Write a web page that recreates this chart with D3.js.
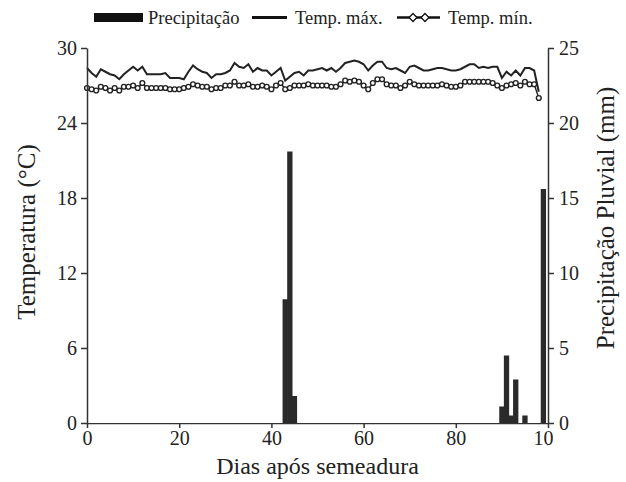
<!DOCTYPE html>
<html>
<head>
<meta charset="utf-8">
<script src="https://cdn.jsdelivr.net/npm/d3@7"></script>
<style>
  body { margin: 0; background: #fff; }
  svg { display: block; }
  svg text { font-family: "Liberation Serif", Tinos, "Times New Roman", Times, "DejaVu Serif", serif; fill: #222; }
</style>
</head>
<body>
<div id="chart"></div>
<script>
// daily temperatures, index = days after sowing (starting at day 0)
var tmax = [28.4, 28.0, 27.7, 28.3, 28.1, 27.9, 27.8, 27.5, 27.9, 28.2,
            28.5, 28.2, 28.5, 27.9, 27.9, 27.9, 27.9, 28.0, 27.6, 27.6,
            27.6, 27.5, 28.1, 28.6, 28.3, 28.1, 28.0, 27.6, 27.9, 27.9,
            28.0, 28.2, 28.8, 28.5, 28.4, 28.7, 28.1, 28.4, 28.2, 28.2,
            27.8, 28.1, 28.4, 27.4, 27.7, 28.0, 28.1, 27.8, 28.2, 28.2,
            28.3, 28.4, 28.2, 28.4, 28.1, 28.4, 28.8, 28.9, 29.0, 28.9,
            28.7, 28.2, 28.6, 28.9, 28.9, 28.4, 28.3, 28.4, 28.2, 28.0,
            28.5, 28.6, 28.4, 28.2, 28.2, 28.3, 28.4, 28.4, 28.3, 28.2,
            28.2, 28.3, 28.5, 28.7, 28.7, 28.4, 28.5, 28.4, 28.5, 28.5,
            27.6, 28.1, 27.8, 28.2, 27.8, 28.4, 28.4, 28.2, 26.5];
var tmin = [26.8, 26.7, 26.6, 26.9, 26.8, 26.6, 26.8, 26.6, 26.9, 26.9,
            27.0, 26.8, 27.2, 26.8, 26.8, 26.8, 26.8, 26.8, 26.7, 26.7,
            26.7, 26.8, 26.9, 27.1, 27.0, 26.9, 26.9, 26.7, 26.8, 26.8,
            27.0, 27.0, 27.3, 27.0, 27.0, 27.1, 26.9, 26.9, 27.0, 26.9,
            26.7, 27.0, 27.2, 26.7, 26.8, 27.0, 27.0, 27.0, 27.1, 27.0,
            27.0, 27.0, 27.0, 26.9, 26.9, 27.1, 27.4, 27.3, 27.4, 27.3,
            27.0, 26.7, 27.2, 27.5, 27.5, 27.1, 27.0, 27.0, 26.8, 27.0,
            27.3, 27.1, 27.0, 27.0, 27.0, 27.0, 27.0, 27.1, 27.0, 26.9,
            26.9, 27.0, 27.3, 27.3, 27.3, 27.3, 27.3, 27.3, 27.2, 27.0,
            26.8, 27.0, 27.1, 27.2, 27.0, 27.3, 27.1, 27.1, 26.0];
var rainDays = [43, 44, 45, 90, 91, 92, 93, 95, 99];
var rainMm = [8.25, 18.1, 1.8, 1.1, 4.5, 0.5, 2.9, 0.5, 15.6];

var dayTicks = [0, 20, 40, 60, 80, 100];
var tempTicks = [0, 6, 12, 18, 24, 30];
var rainTicks = [0, 5, 10, 15, 20, 25];

var W = 626, H = 482;
var margin = {top: 48, right: 78, bottom: 59, left: 87};
var ink = "#222";
var serif = '"Liberation Serif", Tinos, "Times New Roman", Times, "DejaVu Serif", serif';

var svg = d3.select("#chart").append("svg").attr("width", W).attr("height", H);

var x = d3.scaleLinear().domain([0, 100]).range([margin.left, W - margin.right]);
var yT = d3.scaleLinear().domain([0, 30]).range([H - margin.bottom, margin.top]);
var yP = d3.scaleLinear().domain([0, 25]).range([H - margin.bottom, margin.top]);

/***************************
 * Precipitation bars
 ***************************/
var barW = 1.15; // in days
svg.append("g").selectAll("rect")
    .data(rainDays.map(function(d, i) { return {day: d, mm: rainMm[i]}; }))
    .join("rect")
    .attr("x", function(d) { return x(d.day - barW / 2); })
    .attr("width", x(barW) - x(0))
    .attr("y", function(d) { return yP(d.mm); })
    .attr("height", function(d) { return yP(0) - yP(d.mm); })
    .attr("fill", "#2a2a2a");

/***************************
 * Temperature lines
 ***************************/
var line = d3.line()
    .x(function(d, i) { return x(i); })
    .y(function(d) { return yT(d); });

svg.append("path").datum(tmax)
    .attr("d", line).attr("fill", "none")
    .attr("stroke", ink).attr("stroke-width", 2);

svg.append("path").datum(tmin)
    .attr("d", line).attr("fill", "none")
    .attr("stroke", ink).attr("stroke-width", 1.4);

svg.append("g").selectAll("circle")
    .data(tmin).join("circle")
    .attr("cx", function(d, i) { return x(i); })
    .attr("cy", function(d) { return yT(d); })
    .attr("r", 2.4)
    .attr("fill", "#fff").attr("stroke", ink).attr("stroke-width", 1.4);

/***************************
 * Axes
 ***************************/
var styleAxis = function(g) {
    g.attr("font-family", serif);
    g.selectAll("path, line").attr("stroke", "#333").attr("stroke-width", 1.5);
    g.selectAll("text").attr("font-size", 20).attr("fill", ink).style("font-family", serif);
};

// the last day label is cut off in the original, keep it that way
svg.append("clipPath").attr("id", "xclip")
    .append("rect").attr("x", 0).attr("y", 0).attr("width", x(100) + 5).attr("height", H);

svg.append("g")
    .attr("transform", "translate(0," + yT(0) + ")")
    .attr("clip-path", "url(#xclip)")
    .call(d3.axisBottom(x).tickValues(dayTicks).tickSize(5).tickSizeOuter(0).tickPadding(3))
    .call(styleAxis);

svg.append("g")
    .attr("transform", "translate(" + x(0) + ",0)")
    .call(d3.axisLeft(yT).tickValues(tempTicks).tickSize(6).tickSizeOuter(0).tickPadding(4))
    .call(styleAxis);

svg.append("g")
    .attr("transform", "translate(" + x(100) + ",0)")
    .call(d3.axisRight(yP).tickValues(rainTicks).tickSize(6).tickSizeOuter(0).tickPadding(5))
    .call(styleAxis);

// axis titles
var titles = svg.append("g").style("font-family", serif);
titles.append("text")
    .attr("x", (x(0) + x(100)) / 2).attr("y", H - 8)
    .attr("text-anchor", "middle").attr("font-size", 24)
    .text("Dias após semeadura");

titles.append("text")
    .attr("transform", "translate(35,232) rotate(-90)")
    .attr("text-anchor", "middle").attr("font-size", 25)
    .text("Temperatura (°C)");

titles.append("text")
    .attr("transform", "translate(614,218) rotate(-90)")
    .attr("text-anchor", "middle").attr("font-size", 25)
    .text("Precipitação Pluvial (mm)");

/***************************
 * Legend
 ***************************/
var lg = svg.append("g").attr("font-size", 18.5).style("font-family", serif);
lg.append("rect").attr("x", 94).attr("y", 13).attr("width", 49).attr("height", 9).attr("fill", "#111");
lg.append("text").attr("x", 148).attr("y", 23.5).text("Precipitação");

lg.append("line").attr("x1", 252).attr("x2", 287).attr("y1", 17.5).attr("y2", 17.5)
    .attr("stroke", "#111").attr("stroke-width", 3);
lg.append("text").attr("x", 295).attr("y", 23.5).text("Temp. máx.");

lg.append("line").attr("x1", 397).attr("x2", 440).attr("y1", 17.5).attr("y2", 17.5)
    .attr("stroke", "#111").attr("stroke-width", 2.5);
lg.selectAll("path.diamond").data([413, 425]).join("path")
    .attr("class", "diamond")
    .attr("transform", function(d) { return "translate(" + d + ",17.5)"; })
    .attr("d", d3.symbol(d3.symbolDiamond2, 40))
    .attr("fill", "#fff").attr("stroke", "#111").attr("stroke-width", 1.3);
lg.append("text").attr("x", 448).attr("y", 23.5).text("Temp. mín.");
</script>
</body>
</html>
